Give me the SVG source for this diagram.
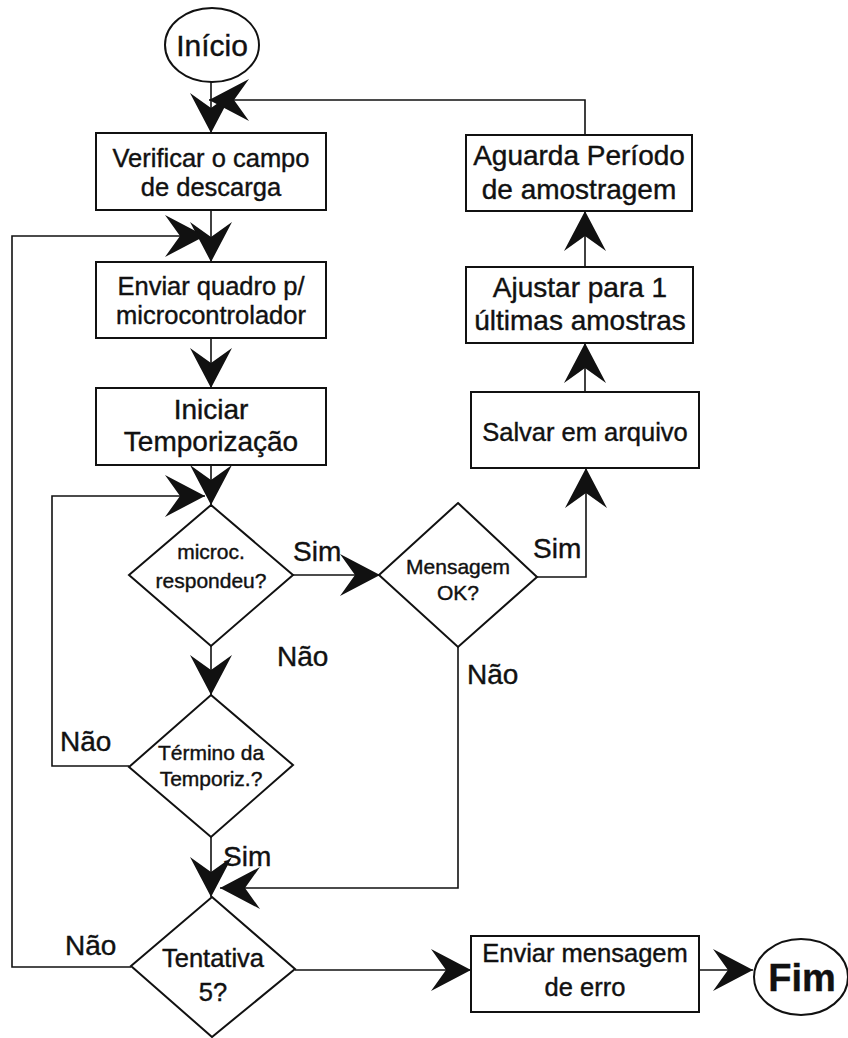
<svg xmlns="http://www.w3.org/2000/svg" width="848" height="1038" viewBox="0 0 848 1038">
  <style>
    .shape { fill: #fff; stroke: #111; stroke-width: 2; }
    .wire { fill: none; stroke: #111; stroke-width: 1.6; }
    text { font-family: "Liberation Sans", Arial, sans-serif; fill: #111; stroke: #111; stroke-width: 0.4; text-anchor: middle; }
    .box { font-size: 25.5px; }
    .big { font-size: 28px; }
    .dia { font-size: 21px; }
    .lbl { font-size: 28px; text-anchor: start; }
  </style>
  <defs>
    <marker id="ah" markerUnits="userSpaceOnUse" markerWidth="44" markerHeight="46" viewBox="-42 -23 44 46" refX="0" refY="0" orient="auto">
      <path d="M0,0 L-40,-21 L-25,0 L-40,21 Z" fill="#111"/>
    </marker>
  </defs>

  <!-- connectors -->
  <g id="connectors">
    <path class="wire" d="M211,82 V133" marker-end="url(#ah)"/>
    <path class="wire" d="M585,135 V100 H209" marker-end="url(#ah)"/>
    <path class="wire" d="M211,210 V262" marker-end="url(#ah)"/>
    <path class="wire" d="M131,967 H12 V236 H205" marker-end="url(#ah)"/>
    <path class="wire" d="M211,338 V388" marker-end="url(#ah)"/>
    <path class="wire" d="M211,465 V505" marker-end="url(#ah)"/>
    <path class="wire" d="M129,766 H52 V496 H205" marker-end="url(#ah)"/>
    <path class="wire" d="M293,575 H380" marker-end="url(#ah)"/>
    <path class="wire" d="M537,577 H586 V468" marker-end="url(#ah)"/>
    <path class="wire" d="M585,392 V343" marker-end="url(#ah)"/>
    <path class="wire" d="M585,267 V211" marker-end="url(#ah)"/>
    <path class="wire" d="M211,646 V695" marker-end="url(#ah)"/>
    <path class="wire" d="M211,837 V897" marker-end="url(#ah)"/>
    <path class="wire" d="M458,647 V888 H220" marker-end="url(#ah)"/>
    <path class="wire" d="M295,970 H471" marker-end="url(#ah)"/>
    <path class="wire" d="M699,970 H753" marker-end="url(#ah)"/>
  </g>

  <!-- start -->
  <g id="inicio">
    <ellipse class="shape" cx="212" cy="45" rx="47" ry="37"/>
    <text x="212" y="56" style="font-size:30px">Início</text>
  </g>

  <g id="verificar">
    <rect class="shape" x="96" y="133" width="230" height="77"/>
    <text class="box" x="211" y="167">Verificar o campo</text>
    <text class="box" x="211" y="196">de descarga</text>
  </g>

  <g id="enviar-quadro">
    <rect class="shape" x="96" y="262" width="230" height="76"/>
    <text class="box" x="211" y="295">Enviar quadro p/</text>
    <text class="box" x="211" y="324">microcontrolador</text>
  </g>

  <g id="iniciar">
    <rect class="shape" x="96" y="388" width="230" height="77"/>
    <text class="big" x="211" y="419">Iniciar</text>
    <text class="big" x="211" y="451">Temporização</text>
  </g>

  <g id="respondeu">
    <polygon class="shape" points="211,505 293,575 211,646 129,575"/>
    <text class="dia" x="211" y="559">microc.</text>
    <text class="dia" x="211" y="588">respondeu?</text>
  </g>

  <g id="mensagem-ok">
    <polygon class="shape" points="458,503 537,577 458,647 379,575"/>
    <text class="dia" x="458" y="574">Mensagem</text>
    <text class="dia" x="458" y="600">OK?</text>
  </g>

  <g id="salvar">
    <rect class="shape" x="471" y="392" width="228" height="76"/>
    <text class="box" x="585" y="441">Salvar em arquivo</text>
  </g>

  <g id="ajustar">
    <rect class="shape" x="466" y="267" width="227" height="76"/>
    <text class="big" x="580" y="297">Ajustar para 1</text>
    <text class="big" x="580" y="330">últimas amostras</text>
  </g>

  <g id="aguarda">
    <rect class="shape" x="466" y="135" width="226" height="76"/>
    <text class="big" x="579" y="165">Aguarda Período</text>
    <text class="big" x="579" y="199">de amostragem</text>
  </g>

  <g id="termino">
    <polygon class="shape" points="211,695 293,765 211,837 129,767"/>
    <text class="dia" x="211" y="760">Término da</text>
    <text class="dia" x="211" y="786">Temporiz.?</text>
  </g>

  <g id="tentativa">
    <polygon class="shape" points="212,897 295,969 212,1037 131,966"/>
    <text class="box" x="213" y="967">Tentativa</text>
    <text class="box" x="213" y="1001">5?</text>
  </g>

  <g id="enviar-erro">
    <rect class="shape" x="471" y="936" width="228" height="76"/>
    <text class="box" x="585" y="962">Enviar mensagem</text>
    <text class="box" x="585" y="996">de erro</text>
  </g>

  <g id="fim">
    <ellipse class="shape" cx="801" cy="977" rx="47" ry="38"/>
    <text x="802" y="991" style="font-size:38px;font-weight:bold">Fim</text>
  </g>

  <!-- branch labels -->
  <g id="labels">
    <text class="lbl" x="293" y="561">Sim</text>
    <text class="lbl" x="277" y="666">Não</text>
    <text class="lbl" x="533" y="558">Sim</text>
    <text class="lbl" x="467" y="684">Não</text>
    <text class="lbl" x="60" y="751">Não</text>
    <text class="lbl" x="223" y="866">Sim</text>
    <text class="lbl" x="65" y="955">Não</text>
  </g>
</svg>
